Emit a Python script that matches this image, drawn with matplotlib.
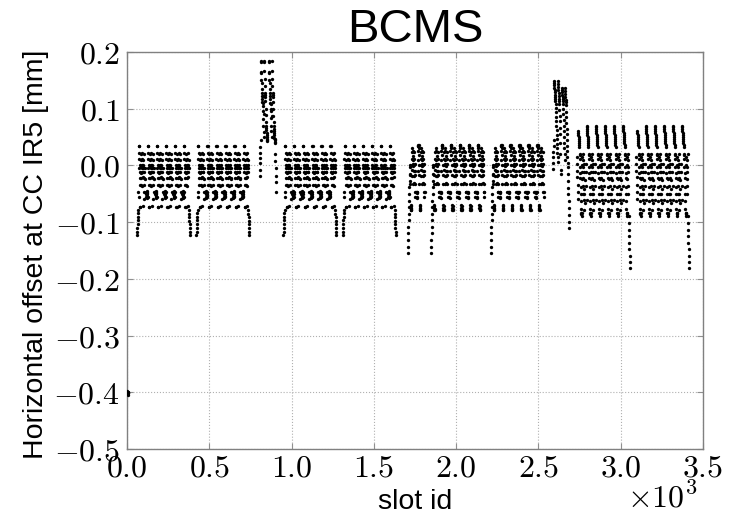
import numpy as np
import matplotlib
matplotlib.use("Agg")
import matplotlib.pyplot as plt
from matplotlib.ticker import FuncFormatter, MultipleLocator

# BCMS filling scheme: horizontal offset at the crab cavity (IR5) per slot

# block layout (first slot of each injection, number of 48b trains, pattern type)
block_start = [61, 422, 806, 950, 1311, 1706, 1848, 2210, 2588, 2734, 3093]
block_ntrains = [6, 6, 2, 6, 6, 2, 6, 6, 2, 6, 6]
block_kind = ["A", "A", "P1", "A", "A", "B", "B", "B", "P2", "C", "C"]
train_step = 55  # 48 bunches + 7 empty slots

# offsets [mm] along one 48 bunch train
std_train = [-0.050, -0.046, -0.055, -0.058, -0.049, -0.045, -0.054, -0.051, -0.047, -0.056,
             0.011, 0.035, 0.035, 0.022, -0.004, 0.001, -0.012, -0.022, -0.035, -0.073, -0.074,
             -0.003, 0.010, -0.013, 0.021, -0.034, -0.023, -0.005, 0.001, -0.011, 0.012, -0.036,
             0.022, -0.003, -0.021, -0.072, 0.000, -0.012,
             -0.005, 0.010, -0.012, 0.021, -0.023, -0.034, -0.059, -0.046, -0.004, -0.024]
std_head = [-0.123, -0.117, -0.110, -0.104, -0.097, -0.091, -0.084, -0.078]
std_tail = [-0.078, -0.085, -0.091, -0.098, -0.104, -0.111, -0.117, -0.123]

b_train = [-0.047, -0.056, -0.048, -0.057, -0.046, 0.010, -0.009, 0.025, 0.035, 0.036, 0.035, 0.036,
           0.030, 0.018, 0.000, -0.017, -0.032, -0.070, -0.075, -0.079, -0.071, -0.076, -0.079,
           0.001, 0.011, 0.024, -0.008, -0.018, 0.031, -0.032, 0.002, 0.010, 0.026, 0.017, -0.001,
           -0.009, -0.018, -0.031, 0.000, 0.011, 0.024, -0.010, -0.017, 0.003, -0.033, -0.047,
           -0.056, -0.046]
b_head = [-0.155, -0.143, -0.131, -0.120, -0.108, -0.097, -0.085, -0.073, -0.062, -0.050,
          -0.038, -0.027, -0.015, -0.003]

c_train = [0.003, -0.012, -0.037, -0.061, 0.070, 0.067, 0.064, 0.060, 0.057, 0.053, 0.050, 0.047,
           0.043, 0.040, 0.036, 0.032, 0.020, 0.012, -0.002, 0.018, -0.013, -0.023, -0.038, -0.050,
           -0.062, -0.077, -0.083, -0.086, -0.089, -0.084, 0.015, 0.001, -0.024, -0.012, -0.050,
           -0.037, 0.010, -0.003, 0.020, -0.023, -0.050, 0.002, -0.012, -0.061, -0.078, -0.041,
           -0.026, -0.067]
c_head = [0.015, 0.003, -0.009, -0.021, -0.034, -0.047, -0.060]
c_tail = [-0.090, -0.101, -0.113, -0.124, -0.136, -0.147, -0.159, -0.170, -0.181]

p1_train_a = [-0.018, -0.008, 0.004, 0.013, 0.022, 0.032, 0.044, 0.184, 0.183, 0.164, 0.150, 0.163,
              0.134, 0.145, 0.123, 0.128, 0.111, 0.117, 0.122, 0.096, 0.110, 0.082, 0.104, 0.070,
              0.059, 0.090, 0.050, 0.185, 0.182, 0.166, 0.152, 0.140, 0.128, 0.121, 0.124, 0.113, 0.100,
              0.089, 0.077, 0.070, 0.066, 0.062, 0.058, 0.054, 0.050, 0.047, 0.045, 0.043]
p1_train_b = [0.184, 0.182, 0.165, 0.150, 0.163, 0.134, 0.146, 0.122, 0.127, 0.110, 0.118, 0.096,
              0.108, 0.083, 0.100, 0.070, 0.060, 0.088, 0.050, 0.185, 0.166, 0.152, 0.140, 0.128,
              0.120, 0.124, 0.112, 0.099, 0.088, 0.077, 0.070, 0.065, 0.061, 0.057, 0.053, 0.049,
              0.046, 0.044, 0.042, 0.040, 0.021, 0.008, -0.005, -0.018, -0.030, -0.047]

p2_train_a = [-0.006, 0.004, 0.014, 0.024, 0.034, 0.044, 0.149, 0.145, 0.141, 0.137, 0.133, 0.129,
              0.125, 0.121, 0.117, 0.113, 0.109, 0.102, 0.094, 0.086, 0.078, 0.070, 0.062, 0.054,
              0.046, 0.038, 0.030, 0.022, 0.014, 0.006, 0.148, 0.143, 0.138, 0.133, 0.128, 0.123, 0.118,
              0.113, 0.108, 0.098, 0.088, 0.078, 0.066, 0.055, 0.040, 0.020, -0.008, -0.015]
p2_train_b = [0.137, 0.133, 0.129, 0.125, 0.121, 0.117, 0.113, 0.109, 0.100, 0.090, 0.080, 0.070,
              0.060, 0.050, 0.040, 0.030, 0.020, 0.010, 0.136, 0.131, 0.126, 0.121, 0.116, 0.111, 0.106,
              0.095, 0.085, 0.075, 0.065, 0.055, 0.045, 0.035, 0.025, 0.015, 0.005, -0.002,
              -0.015, -0.027, -0.039, -0.051, -0.063, -0.075, -0.087, -0.099, -0.111]

# pilot bunches at the start of the ring
pilot_slot = [2, 3, 4, 5, 6, 7]
pilot_offset = [-0.398, -0.399, -0.400, -0.401, -0.402, -0.404]


def block_trains(kind, n):
    # list of offset profiles for every train of one injection
    if kind == "P1":
        return [p1_train_a, p1_train_b]
    if kind == "P2":
        return [p2_train_a, p2_train_b]
    base = {"A": std_train, "B": b_train, "C": c_train}[kind]
    trains = [list(base) for _ in range(n)]
    if kind == "A":
        trains[0][:len(std_head)] = std_head
        trains[-1][-len(std_tail):] = std_tail
    elif kind == "B":
        trains[0][:len(b_head)] = b_head
    elif kind == "C":
        trains[0][:len(c_head)] = c_head
        trains[-1][-len(c_tail):] = c_tail
    return trains


slots = list(pilot_slot)
offsets = list(pilot_offset)
for start, n, kind in zip(block_start, block_ntrains, block_kind):
    for k, prof in enumerate(block_trains(kind, n)):
        s0 = start + k * train_step
        slots += [s0 + i for i in range(len(prof))]
        offsets += prof

plt.rcParams["mathtext.fontset"] = "cm"
plt.rcParams["font.family"] = ["Liberation Sans", "DejaVu Sans"]

fig = plt.figure(figsize=(7.36, 5.18), dpi=100)
fig.patch.set_facecolor("white")
ax = fig.add_axes([0.1726, 0.1332, 0.7826, 0.7664])

ax.plot(slots, offsets, "o", color="k", ms=2.4, mew=0, zorder=3)

ax.set_xlim(0, 3500)
ax.set_ylim(-0.5, 0.2)
ax.xaxis.set_major_locator(MultipleLocator(500))
ax.yaxis.set_major_locator(MultipleLocator(0.1))
ax.xaxis.set_major_formatter(FuncFormatter(lambda v, p: f"${v/1000:.1f}$"))
ax.yaxis.set_major_formatter(FuncFormatter(lambda v, p: f"${v:.1f}$"))
ax.tick_params(which="both", direction="in", length=4, width=0.8, color="#909090",
               top=True, right=True, labelsize=23)
ax.tick_params(axis="x", pad=3)
ax.tick_params(axis="y", pad=5)
for sp in ax.spines.values():
    sp.set_color("#808080")
    sp.set_linewidth(1.0)
ax.grid(True, linestyle=":", color="#b0b0b0", linewidth=0.8)

ax.set_title("BCMS", fontsize=34, pad=3.5)
ax.set_xlabel("slot id", fontsize=20.5)
ax.set_ylabel("Horizontal offset at CC IR5 [mm]", fontsize=20.5)
ax.xaxis.set_label_coords(0.5, -0.1)
ax.yaxis.set_label_coords(-0.135, 0.49)
ax.text(0.99, -0.085, r"$\times10^{3}$", transform=ax.transAxes,
        ha="right", va="top", fontsize=23)

fig.savefig("out.png", dpi=100, facecolor="white")
